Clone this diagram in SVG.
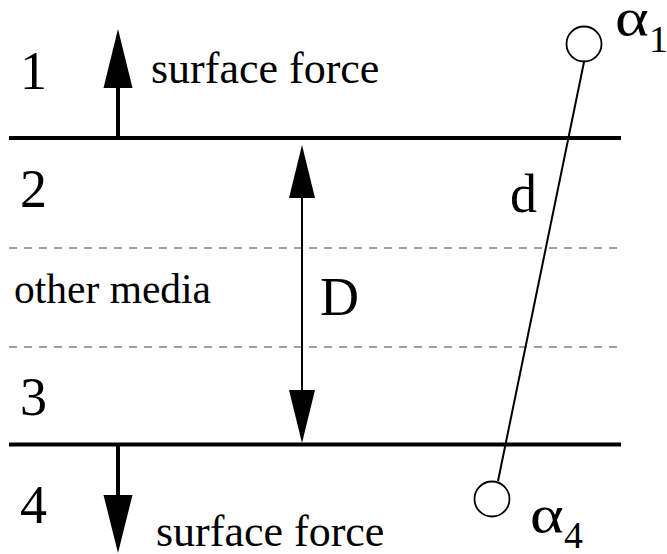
<svg xmlns="http://www.w3.org/2000/svg" width="667" height="554" viewBox="0 0 667 554">
<style>
.t{font-family:"Liberation Serif","Times New Roman",serif;fill:#000}
.big{font-size:54px}
.sf{font-size:44px}
.om{font-size:41.5px}
.greek{font-size:52px}
.sub{font-size:38px}
.plate{stroke:#000;stroke-width:4;fill:none}
.dash{stroke:#808080;stroke-width:1.6;stroke-dasharray:8 7;fill:none}
.thin{stroke:#000;stroke-width:2;fill:none}
.atom{fill:#fff;stroke:#000;stroke-width:1.8}
</style>
<rect width="667" height="554" fill="#fff"/>
<g id="layers">
<line class="plate" x1="9" y1="138" x2="621" y2="138"/>
<line class="plate" x1="9" y1="444.5" x2="621" y2="444.5"/>
<line class="dash" x1="9" y1="248" x2="622" y2="248"/>
<line class="dash" x1="9" y1="347" x2="622" y2="347"/>
</g>
<g id="connectors">
<line x1="118" y1="138" x2="118" y2="86" stroke="#000" stroke-width="4"/>
<polygon points="118,29 103.5,88 132.5,88" fill="#000"/>
<line x1="118" y1="444" x2="118" y2="497" stroke="#000" stroke-width="4"/>
<polygon points="118,553 103.5,495 132.5,495" fill="#000"/>
<line class="thin" x1="302" y1="196" x2="302" y2="392"/>
<polygon points="302,145 289,198 315,198" fill="#000"/>
<polygon points="302,443 289,390 315,390" fill="#000"/>
<line class="thin" x1="584" y1="62" x2="498" y2="481"/>
</g>
<g id="atom1">
<circle class="atom" cx="584" cy="44" r="17.5"/>
<text class="t greek" transform="translate(615,35) scale(1.24,1)">α</text>
<text class="t sub" x="649" y="52">1</text>
</g>
<g id="atom4">
<circle class="atom" cx="492" cy="499" r="17.5"/>
<text class="t greek" transform="translate(530,532) scale(1.24,1)">α</text>
<text class="t sub" x="564" y="548">4</text>
</g>
<g id="labels">
<text class="t big" x="20" y="89">1</text>
<text class="t big" x="20" y="207">2</text>
<text class="t big" x="20" y="415">3</text>
<text class="t big" x="20" y="523">4</text>
<text class="t sf" x="151" y="83">surface force</text>
<text class="t sf" x="156" y="546">surface force</text>
<text class="t om" x="14" y="303">other media</text>
<text class="t big" x="320" y="315">D</text>
<text class="t big" x="510" y="212">d</text>
</g>
</svg>
